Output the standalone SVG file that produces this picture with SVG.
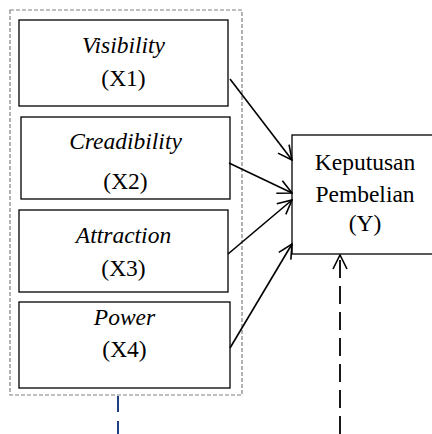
<svg xmlns="http://www.w3.org/2000/svg" width="432" height="434" viewBox="0 0 432 434">
<defs>
<style>
.box{fill:#fff;stroke:#000;stroke-width:1.3}
.t{font-family:"Liberation Serif","Times New Roman",serif;font-size:23.5px;fill:#000;text-anchor:middle}
.i{font-style:italic}
.arr{stroke:#000;stroke-width:1.6;fill:none}
</style>
<marker id="ah" viewBox="0 0 16 16" refX="15" refY="8" markerWidth="16" markerHeight="16" markerUnits="userSpaceOnUse" orient="auto">
<path d="M1,1 L15,8 L1,15" fill="none" stroke="#000" stroke-width="1.6"/>
</marker>
</defs>
<rect width="432" height="434" fill="#fff"/>
<g id="group-x">
<rect x="10" y="10" width="232" height="385" fill="none" stroke="#808080" stroke-width="1.2" stroke-dasharray="4 2"/>
</g>
<g id="x1">
<rect class="box" x="19" y="20" width="209" height="86"/>
<text class="t i" x="123.5" y="53">Visibility</text>
<text class="t" x="123.5" y="86">(X1)</text>
</g>
<g id="x2">
<rect class="box" x="21" y="117" width="209" height="82"/>
<text class="t i" x="125.5" y="149">Creadibility</text>
<text class="t" x="125.5" y="189">(X2)</text>
</g>
<g id="x3">
<rect class="box" x="19" y="210" width="209" height="82"/>
<text class="t i" x="123.5" y="243">Attraction</text>
<text class="t" x="123.5" y="276">(X3)</text>
</g>
<g id="x4">
<rect class="box" x="19" y="302" width="211" height="86"/>
<text class="t i" x="124.5" y="325">Power</text>
<text class="t" x="124.5" y="357">(X4)</text>
</g>
<g id="y">
<rect class="box" x="292" y="135" width="150" height="119"/>
<text class="t" x="365" y="170">Keputusan</text>
<text class="t" x="365" y="202">Pembelian</text>
<text class="t" x="365" y="231">(Y)</text>
</g>
<g id="connectors">
<line class="arr" x1="230" y1="79" x2="292" y2="160" marker-end="url(#ah)"/>
<line class="arr" x1="229" y1="163" x2="292" y2="193" marker-end="url(#ah)"/>
<line class="arr" x1="228" y1="254" x2="292" y2="200" marker-end="url(#ah)"/>
<line class="arr" x1="230" y1="348" x2="292" y2="244" marker-end="url(#ah)"/>
<line x1="340" y1="434" x2="340" y2="255" stroke="#000" stroke-width="1.8" stroke-dasharray="18 8" marker-end="url(#ah)"/>
<line x1="118" y1="396" x2="118" y2="434" stroke="#1f3f80" stroke-width="2" stroke-dasharray="16 9"/>
</g>
</svg>
